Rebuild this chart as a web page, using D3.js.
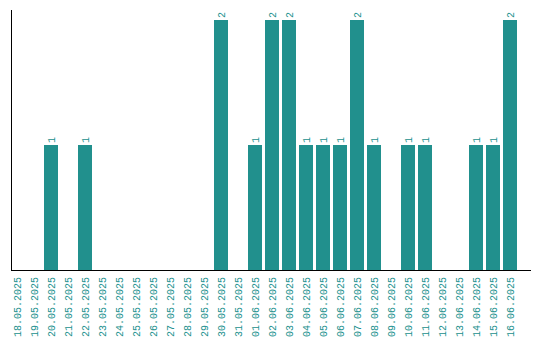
<!DOCTYPE html>
<html>
<head>
<meta charset="utf-8">
<script src="https://cdn.jsdelivr.net/npm/d3@7"></script>
<style>
  body { margin: 0; background: #fff; }
</style>
</head>
<body>
<div id="chart"></div>
<script>
// data
var dates = ["18.05.2025","19.05.2025","20.05.2025","21.05.2025","22.05.2025","23.05.2025",
  "24.05.2025","25.05.2025","26.05.2025","27.05.2025","28.05.2025","29.05.2025","30.05.2025",
  "31.05.2025","01.06.2025","02.06.2025","03.06.2025","04.06.2025","05.06.2025","06.06.2025",
  "07.06.2025","08.06.2025","09.06.2025","10.06.2025","11.06.2025","12.06.2025","13.06.2025",
  "14.06.2025","15.06.2025","16.06.2025"];
var counts = [0,0,1,0,1,0,0,0,0,0,0,0,2,0,1,2,2,1,1,1,2,1,0,1,1,0,0,1,1,2];

var W = 540, H = 340;
var color = "#21908d";

var svg = d3.select("#chart")
  .append("svg")
    .attr("width", W)
    .attr("height", H);

var x = d3.scaleBand()
  .domain(dates)
  .range([10, 517])
  .paddingInner(3 / 17)
  .paddingOuter(0);

var y = d3.scaleLinear()
  .domain([0, 2])
  .range([270, 20]);

// bars
svg.append("g")
  .selectAll("rect")
  .data(dates)
  .enter()
  .append("rect")
    .attr("x", function(d) { return x(d); })
    .attr("width", x.bandwidth())
    .attr("y", function(d, i) { return y(counts[i]); })
    .attr("height", function(d, i) { return y(0) - y(counts[i]); })
    .attr("fill", color);

// value labels (rotated, only for non-zero)
svg.append("g")
  .selectAll("text")
  .data(dates.filter(function(d, i) { return counts[i] > 0; }))
  .enter()
  .append("text")
    .attr("transform", function(d) {
      var v = counts[dates.indexOf(d)];
      return "translate(" + (x(d) + x.bandwidth() / 2 + 3.5) + "," + (y(v) - 2) + ") rotate(-90)";
    })
    .style("font-family", "Liberation Mono, monospace")
    .style("font-size", "10px")
    .attr("fill", color)
    .text(function(d) { return counts[dates.indexOf(d)]; });

// x tick labels
svg.append("g")
  .selectAll("text")
  .data(dates)
  .enter()
  .append("text")
    .attr("transform", function(d) {
      return "translate(" + (x(d) + x.bandwidth() / 2 + 4) + ",277) rotate(-90)";
    })
    .style("text-anchor", "end")
    .style("font-family", "Liberation Mono, monospace")
    .style("font-size", "10px")
    .attr("fill", color)
    .text(function(d) { return d; });

// axes lines
svg.append("line")
  .attr("x1", 11.5).attr("x2", 11.5)
  .attr("y1", 10).attr("y2", 270.5)
  .attr("stroke", "#000");
svg.append("line")
  .attr("x1", 11).attr("x2", 531)
  .attr("y1", 270.5).attr("y2", 270.5)
  .attr("stroke", "#000");
</script>
</body>
</html>
